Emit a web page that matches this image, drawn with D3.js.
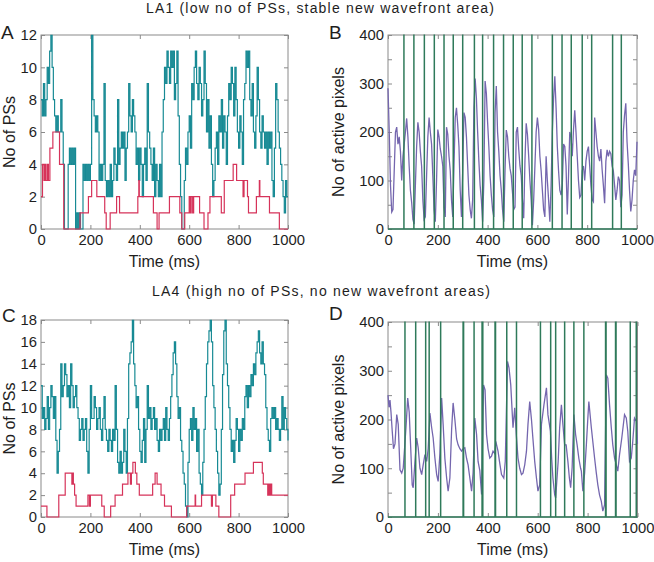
<!DOCTYPE html>
<html><head><meta charset="utf-8">
<script src="https://cdn.jsdelivr.net/npm/d3@7"></script>
<style>
body{margin:0;background:#fff}
svg{display:block}
text{font-family:"Liberation Sans",Arial,Helvetica,sans-serif;fill:#1e1e1e}
</style>
</head><body>
<svg id="c" width="654" height="562"></svg>
<script>
// ---------------- data ----------------
const timeTicks = [0, 200, 400, 600, 800, 1000];
const psTicksA = [0, 2, 4, 6, 8, 10, 12];
const psTicksC = [0, 2, 4, 6, 8, 10, 12, 14, 16, 18];
const pixTicks = [0, 50, 100, 150, 200, 250, 300, 350, 400];
const pixTickLabels = [0, 100, 200, 300, 400];
const sampleStep = 5; // ms between samples of the sampled series

// A: total number of PSs (sampled every 5 ms)
const psTotalA = [
 8,7,9,7,8,10,9,11,12,10, 8,7,6,7,6,6,8,6,4,0, 0,0,4,5,4,5,4,5,0,1,
 0,1,0,0,4,3,4,3,4,3, 4,12,8,7,6,7,6,3,4,3, 4,9,3,2,3,2,4,2,3,5,
 4,3,8,4,5,6,5,6,3,5, 6,9,7,6,8,7,6,4,5,3, 5,4,2,4,5,3,9,6,5,4,
 3,5,2,4,3,2,4,2,
 6,8,10,9,11,10,9,11,10,11, 8,9,11,7,4,2,0,0,3,5, 4,6,7,5,9,8,10,11,9,8,
 10,9,7,8,11,9,6,8,5,7, 4,2,3,5,6,4,7,6,8,5, 7,6,4,7,9,8,10,9,7,10,
 8,6,5,7,6,4,8,9,11,10, 11,8,7,9,6,5,7,10,8,6, 5,7,6,5,6,4,6,5,6,3,
 2,5,9,8,6,5,4,3,2,1, 3,2,2
];
// A: stable PSs (change points)
const psStableA_t = [0,6,12,16,20,26,30,36,48,75,92,158,192,205,226,258,264,280,306,318,392,396,398,455,470,478,520,562,570,582,600,604,608,614,618,642,660,676,684,730,742,778,792,818,822,836,840,872,884,886,925,965,1000];
const psStableA_v = [2,4,3,4,3,4,3,5,6,4,0,1,2,3,2,1,0,1,2,1,2,3,2,1,0,1,2,1,0,1,2,1,2,1,2,1,0,1,2,1,3,4,3,2,3,2,1,2,3,2,1,0,0];

// C: total number of PSs (sampled every 5 ms)
const psTotalC = [
 12,9,10,8,9,11,8,10,12,11, 9,11,7,4,6,8,14,11,12,14, 13,11,12,10,14,12,10,11,12,10,
 9,7,8,9,7,8,9,6,4,8, 12,9,9,11,10,8,9,10,8,7, 9,11,8,7,6,8,7,6,8,7,
 12,8,5,4,6,4,5,8,6,4, 9,14,15,16,18,14,12,10,11,8, 6,5,7,9,5,8,12,9,10,8,
 9,10,8,9,7,6,8,7,
 8,9,7,10,8,7,9,11,13,15, 16,14,11,9,10,7,6,4,3,1, 0,5,8,9,7,10,8,9,6,8,
 4,3,2,5,8,11,14,16,17,18, 16,12,10,8,6,4,2,3,8,13, 17,18,14,12,10,8,6,7,5,7,
 9,8,6,8,7,9,8,11,12,10, 12,11,13,12,14,13,15,16,17,15, 14,16,14,13,10,8,7,6,9,10,
 9,10,8,9,8,7,8,11,8,10, 9,8,7
];
// C: stable PSs (change points)
const psStableC_t = [0,24,72,98,125,128,131,136,142,190,196,200,246,256,282,300,330,352,362,366,372,382,388,398,452,462,470,486,500,528,590,624,626,650,690,694,708,720,768,784,826,860,896,900,918,922,926,930,934,1000];
const psStableC_v = [1,0,2,4,3,4,3,2,1,2,1,2,1,0,1,2,3,4,3,4,5,4,3,2,3,4,3,2,1,0,1,2,1,2,1,2,1,0,2,3,4,5,4,3,2,3,2,3,2,2];

// B: number of active pixels (sampled every 5 ms)
const activeB = [
 290,200,90,35,40,120,200,210,175,190, 160,100,150,175,200,228,190,130,80,55,
 20,10,90,170,220,200,160,130,60,20, 25,110,190,230,200,175,110,40,15,100,
 205,190,165,150,130,45,25,210,195,150, 120,60,25,130,230,250,215,170,80,25,
 120,240,230,190,130,70,40,22,60,250, 310,270,200,140,90,60,15,100,305,280,
 220,170,110,70,40,25,240,295,200,160, 110,80,40,15,120,204,190,150,125,110,
 75,40,45,200,210,165,130,110,60,22, 140,218,195,150,100,60,8,60,130,200,
 230,205,150,120,80,40,25,150,100,60, 15,90,200,270,315,250,170,120,80,70,
 90,175,170,130,30,110,200,190,150,205, 245,200,150,100,65,70,120,130,100,140,
 160,170,130,90,60,56,230,200,170,150, 140,165,122,90,53,140,163,150,160,155,
 130,120,90,60,80,108,100,45,70,200, 235,259,180,135,80,36,60,100,122,110,
 180
];
// B: new wavefront areas (time, area in pixels)
const newAreaB_t = [64,104,146,186,225,262,300,347,380,424,464,503,539,578,660,699,736,780,818,902,937];
const newAreaB_v = [620,540,700,480,560,650,590,720,510,600,680,470,560,640,700,530,610,580,690,520,640];

// D: number of active pixels (time, value)
const activeD_t = [0,4,8,12,17,22,28,35,41,48,55,61,72,79,85,91,97,101,108,115,121,128,135,141,148,155,161,168,175,181,188,195,201,208,215,221,228,235,241,248,255,261,268,275,281,288,295,301,308,315,321,328,335,341,348,355,361,368,375,383,389,395,401,408,415,421,428,432,441,448,455,464,470,479,485,492,501,508,514,521,528,535,541,548,555,561,568,575,581,588,595,601,608,615,625,635,641,651,656,661,668,672,682,688,695,701,708,714,721,727,732,738,745,752,758,765,772,775,781,788,795,801,805,815,828,835,841,848,855,861,868,875,881,888,895,901,908,915,921,928,937,948,955,961,968,975,981,988,996,1000];
const activeD_v = [250,225,240,215,176,140,150,210,190,97,90,100,183,244,215,142,66,60,114,162,142,100,87,107,128,114,140,213,183,162,121,87,73,130,244,190,120,80,53,80,180,234,200,160,148,140,135,140,142,120,107,80,53,90,203,169,114,95,46,271,261,169,140,121,125,135,130,155,135,110,87,80,114,319,306,271,183,224,170,121,100,87,90,107,135,190,237,200,160,114,80,53,66,190,230,265,210,176,120,80,46,39,114,183,230,190,148,148,114,80,60,101,210,169,148,120,100,94,53,90,148,203,237,183,121,90,66,45,32,12,25,292,285,230,183,148,121,107,94,128,162,210,203,176,114,121,155,203,196,150];
// D: new wavefront areas (time, area in pixels)
const newAreaD_t = [68,111,151,165,211,301,303,345,377,380,429,431,476,515,611,652,672,708,745,785,872,874,912,914,971,995];
const newAreaD_v = [560,480,610,520,590,700,650,540,620,580,690,640,510,600,570,630,540,610,560,590,700,660,620,580,540,600];

// ---------------- styles ----------------
const frameColor = "#8a8a8a";
const cTotal = "#178a94";
const cStable = "#d6335a";
const cPix = "#7466ae";
const cNew = "#2f7a5a";

const svg = d3.select("#c");

function drawFrame(cfg) {
  const x = d3.scaleLinear().domain([0, 1000]).range([cfg.x0, cfg.x1]);
  const y = d3.scaleLinear().domain([0, cfg.ymax]).range([cfg.y1, cfg.y0]);
  const g = svg.append("g");
  const clean = sel => {
    sel.select(".domain").remove();
    sel.attr("font-size", null).attr("font-family", null);
    sel.selectAll(".tick line").attr("stroke", frameColor);
    sel.selectAll(".tick text").attr("font-size", 14.8).attr("fill", "#1e1e1e");
  };
  g.append("g").attr("transform", `translate(0,${cfg.y1})`)
    .call(d3.axisBottom(x).tickValues(timeTicks).tickSize(-4).tickPadding(5).tickFormat(d => String(d))).call(clean);
  g.append("g").attr("transform", `translate(0,${cfg.y0})`)
    .call(d3.axisTop(x).tickValues(timeTicks).tickSize(-4).tickFormat("")).call(clean);
  g.append("g").attr("transform", `translate(${cfg.x0},0)`)
    .call(d3.axisLeft(y).tickValues(cfg.yticks).tickSize(-4).tickPadding(4)
      .tickFormat(d => cfg.ylabels.includes(d) ? String(d) : "")).call(clean);
  g.append("g").attr("transform", `translate(${cfg.x1},0)`)
    .call(d3.axisRight(y).tickValues(cfg.yticks).tickSize(-4).tickFormat("")).call(clean);
  g.append("rect").attr("x", cfg.x0).attr("y", cfg.y0)
    .attr("width", cfg.x1 - cfg.x0).attr("height", cfg.y1 - cfg.y0)
    .attr("fill", "none").attr("stroke", frameColor).attr("stroke-width", 1);
  // clip
  svg.append("clipPath").attr("id", "clip" + cfg.name).append("rect")
    .attr("x", cfg.x0 - 1).attr("y", cfg.y0 - 0.5)
    .attr("width", cfg.x1 - cfg.x0 + 2).attr("height", cfg.y1 - cfg.y0 + 1.5);
  const data = svg.append("g").attr("clip-path", `url(#clip${cfg.name})`);
  // labels
  svg.append("text").attr("x", (cfg.x0 + cfg.x1) / 2).attr("y", cfg.y1 + 37.5)
    .attr("text-anchor", "middle").attr("font-size", 16).text("Time (ms)");
  svg.append("text").attr("transform", `translate(${cfg.ylx},${(cfg.y0 + cfg.y1) / 2}) rotate(-90)`)
    .attr("text-anchor", "middle").attr("font-size", 16).text(cfg.ylab);
  svg.append("text").attr("x", cfg.lx).attr("y", cfg.ly).attr("font-size", 19).text(cfg.letter);
  return {x, y, data};
}

function sampled(arr) { return arr.map((v, i) => [i * sampleStep, v]); }
function paired(ts, vs) { return ts.map((t, i) => [t, vs[i]]); }

function psPanel(cfg, total, st, sv) {
  const {x, y, data} = drawFrame(cfg);
  const line = d3.line().x(d => x(d[0])).y(d => y(d[1])).curve(d3.curveStepAfter);
  data.append("path").attr("d", line(sampled(total))).attr("fill", "none")
    .attr("stroke", cTotal).attr("stroke-width", 1.2);
  data.append("path").attr("d", line(paired(st, sv))).attr("fill", "none")
    .attr("stroke", cStable).attr("stroke-width", 1.2);
}

function pixPanel(cfg, pts, nt, nv) {
  const {x, y, data} = drawFrame(cfg);
  const line = d3.line().x(d => x(d[0])).y(d => y(d[1]));
  data.append("path").attr("d", line(pts)).attr("fill", "none")
    .attr("stroke", cPix).attr("stroke-width", 1.3);
  // new wavefront area series: zero baseline with spikes
  const spikes = [[0, 0]];
  nt.forEach((t, i) => { spikes.push([t, 0], [t, nv[i]], [t, 0]); });
  spikes.push([1000, 0]);
  data.append("path").attr("d", line(spikes)).attr("fill", "none")
    .attr("stroke", cNew).attr("stroke-width", 1.5);
}

psPanel({name: "A", x0: 41, x1: 288, y0: 35, y1: 229, ymax: 12, yticks: psTicksA, ylabels: psTicksA,
  ylab: "No of PSs", ylx: 15, letter: "A", lx: 1, ly: 39}, psTotalA, psStableA_t, psStableA_v);
pixPanel({name: "B", x0: 388, x1: 637, y0: 35, y1: 229, ymax: 400, yticks: pixTicks, ylabels: pixTickLabels,
  ylab: "No of active pixels", ylx: 344, letter: "B", lx: 329, ly: 39}, sampled(activeB), newAreaB_t, newAreaB_v);
psPanel({name: "C", x0: 41, x1: 288, y0: 320, y1: 517, ymax: 18, yticks: psTicksC, ylabels: psTicksC,
  ylab: "No of PSs", ylx: 15, letter: "C", lx: 2, ly: 322}, psTotalC, psStableC_t, psStableC_v);
pixPanel({name: "D", x0: 388, x1: 637.5, y0: 322, y1: 517, ymax: 400, yticks: pixTicks, ylabels: pixTickLabels,
  ylab: "No of active pixels", ylx: 344, letter: "D", lx: 329, ly: 320}, paired(activeD_t, activeD_v), newAreaD_t, newAreaD_v);

// titles
svg.append("text").attr("x", 146).attr("y", 13).attr("font-size", 14)
  .attr("textLength", 348).attr("lengthAdjust", "spacing").attr("fill", "#2a2a2a")
  .text("LA1 (low no of PSs, stable new wavefront area)");
svg.append("text").attr("x", 152).attr("y", 295.5).attr("font-size", 14)
  .attr("textLength", 338).attr("lengthAdjust", "spacing").attr("fill", "#2a2a2a")
  .text("LA4 (high no of PSs, no new wavefront areas)");
</script>
</body></html>
